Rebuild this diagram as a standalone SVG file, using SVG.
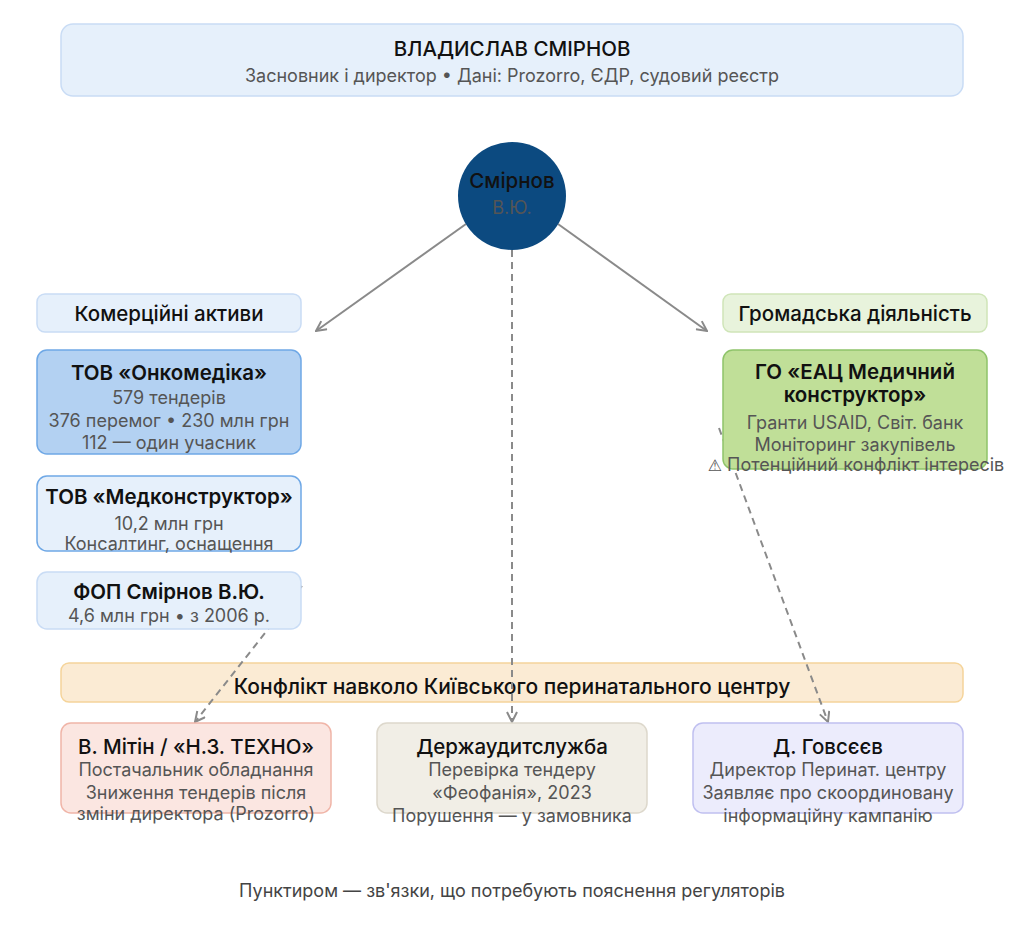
<svg xmlns="http://www.w3.org/2000/svg" width="1024" height="934" viewBox="0 0 1024 934">
<defs>
<style>
text{font-family:Inter,"Noto Sans","DejaVu Sans",sans-serif;text-anchor:middle}
.t{font-size:20.5px;font-weight:600;fill:#111}
.m{font-size:20.5px;font-weight:500;fill:#111}
.s{font-size:18px;fill:#555}
.h{font-size:21px;font-weight:500;fill:#111}
.edge{fill:none;stroke:#8a8a8a;stroke-width:2}
.dash{fill:none;stroke:#8a8a8a;stroke-width:2;stroke-dasharray:7 5}
</style>
<marker id="arr" viewBox="0 0 12 12" refX="11" refY="6" markerWidth="12" markerHeight="12" markerUnits="userSpaceOnUse" orient="auto">
<path d="M1,1 L11,6 L1,11" fill="none" stroke="#8a8a8a" stroke-width="2"/>
</marker>
</defs>
<rect width="1024" height="934" fill="#fff"/>

<g id="header">
<rect x="61" y="24" width="902" height="72" rx="12" fill="#e6f0fb" stroke="#c9dcf5" stroke-width="1.5"/>
<text x="512" y="55.5" class="m">ВЛАДИСЛАВ СМІРНОВ</text>
<text x="512" y="81.5" class="s">Засновник і директор • Дані: Prozorro, ЄДР, судовий реєстр</text>
</g>

<g id="conflict">
<rect x="61" y="663" width="902" height="39" rx="8" fill="#fbebd4" stroke="#f5d49a" stroke-width="1.5"/>
<text x="512" y="693.5" class="h">Конфлікт навколо Київського перинатального центру</text>
</g>

<g id="connectors">
<line class="edge" x1="466" y1="224" x2="316" y2="331" marker-end="url(#arr)"/>
<line class="edge" x1="558" y1="224" x2="707" y2="331" marker-end="url(#arr)"/>
<line class="dash" x1="512" y1="250" x2="512" y2="722" marker-end="url(#arr)"/>
<line class="dash" x1="302" y1="586" x2="195" y2="722" marker-end="url(#arr)"/>
<line class="dash" x1="719" y1="428" x2="828" y2="722" marker-end="url(#arr)"/>
</g>

<g id="person">
<circle cx="512" cy="196" r="54" fill="#0c4a80"/>
<text x="512" y="188" class="m">Смірнов</text>
<text x="512" y="214" class="s">В.Ю.</text>
</g>

<g id="commercial">
<rect x="37" y="294" width="264" height="38" rx="8" fill="#e6f0fb" stroke="#c9dcf5" stroke-width="1.5"/>
<text x="169" y="321" class="m">Комерційні активи</text>
</g>

<g id="civic">
<rect x="723" y="294" width="264" height="38" rx="8" fill="#e8f3dc" stroke="#cfe5b8" stroke-width="1.5"/>
<text x="855" y="321" class="m">Громадська діяльність</text>
</g>

<g id="onkomedika">
<rect x="37" y="350" width="264" height="104" rx="10" fill="#b3d1f2" stroke="#6fa8e6" stroke-width="1.5"/>
<text x="169" y="380" class="t">ТОВ «Онкомедіка»</text>
<text x="169" y="403.5" class="s">579 тендерів</text>
<text x="169" y="426.5" class="s">376 перемог • 230 млн грн</text>
<text x="169" y="448.5" class="s">112 — один учасник</text>
</g>

<g id="medkonstruktor">
<rect x="37" y="476" width="264" height="75" rx="10" fill="#e6f0fb" stroke="#6fa8e6" stroke-width="1.5"/>
<text x="169" y="504" class="t">ТОВ «Медконструктор»</text>
<text x="169" y="529.5" class="s">10,2 млн грн</text>
<text x="169" y="549.5" class="s">Консалтинг, оснащення</text>
</g>

<g id="fop">
<rect x="37" y="572" width="264" height="57" rx="10" fill="#e6f0fb" stroke="#c9dcf5" stroke-width="1.5"/>
<text x="169" y="599" class="t">ФОП Смірнов В.Ю.</text>
<text x="169" y="621.5" class="s">4,6 млн грн • з 2006 р.</text>
</g>

<g id="go">
<rect x="723" y="350" width="264" height="119" rx="10" fill="#c0df98" stroke="#8fc46a" stroke-width="1.5"/>
<text x="855" y="379" class="t">ГО «ЕАЦ Медичний</text>
<text x="855" y="402" class="t">конструктор»</text>
<text x="855" y="428.5" class="s">Гранти USAID, Світ. банк</text>
<text x="855" y="450.5" class="s">Моніторинг закупівель</text>
<text x="856" y="470.5" class="s"><tspan style="font-family:'DejaVu Sans',sans-serif;font-size:16px">⚠</tspan> Потенційний конфлікт інтересів</text>
</g>

<g id="mitin">
<rect x="61" y="723" width="270" height="90" rx="10" fill="#fbe6e1" stroke="#f0b5a8" stroke-width="1.5"/>
<text x="196" y="753.5" class="m">В. Мітін / «Н.З. ТЕХНО»</text>
<text x="196" y="775.5" class="s">Постачальник обладнання</text>
<text x="196" y="798.5" class="s">Зниження тендерів після</text>
<text x="196" y="819.5" class="s">зміни директора (Prozorro)</text>
</g>

<g id="audit">
<rect x="377" y="723" width="270" height="90" rx="10" fill="#f1eee6" stroke="#ddd8cc" stroke-width="1.5"/>
<text x="512" y="753.5" class="m">Держаудитслужба</text>
<text x="512" y="775.5" class="s">Перевірка тендеру</text>
<text x="512" y="798.5" class="s">«Феофанія», 2023</text>
<text x="512" y="822" class="s">Порушення — у замовника</text>
</g>

<g id="govseev">
<rect x="693" y="723" width="270" height="90" rx="10" fill="#ececfc" stroke="#c0c0f0" stroke-width="1.5"/>
<text x="828" y="753.5" class="m">Д. Говсєєв</text>
<text x="828" y="775.5" class="s">Директор Перинат. центру</text>
<text x="828" y="798.5" class="s">Заявляє про скоординовану</text>
<text x="828" y="822" class="s">інформаційну кампанію</text>
</g>

<g id="footer">
<text x="512" y="896.5" class="s" style="fill:#444">Пунктиром — зв'язки, що потребують пояснення регуляторів</text>
</g>
</svg>
